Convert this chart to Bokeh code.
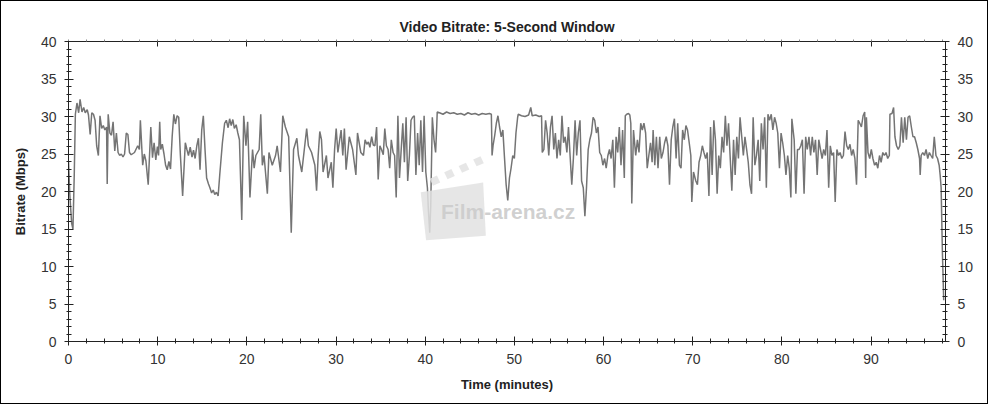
from bokeh.plotting import figure
from bokeh.models import LinearAxis, Range1d, Label, FixedTicker
from bokeh.embed import file_html
from bokeh.resources import INLINE

# ---- data (time in minutes, bitrate in Mbps) ----
t_part1 = [0.00, 0.15, 0.35, 0.50, 0.65, 0.77, 0.95, 1.14, 1.30, 1.51, 1.70, 1.88, 2.10, 2.24, 2.43, 2.61, 2.80, 2.98,
           3.16, 3.35, 3.53, 3.72, 3.90, 4.08, 4.27, 4.34, 4.45, 4.64, 4.82, 5.00, 5.19, 5.37, 5.56, 5.74, 5.92, 6.11,
           6.29, 6.48, 6.66, 6.84, 7.03, 7.40, 7.76, 7.95, 8.06, 8.32, 8.50, 8.68, 8.94, 9.23, 9.42, 9.60, 9.79, 9.97,
           10.10, 10.23, 10.34, 10.52, 10.71, 10.89, 11.07, 11.26, 11.44, 11.63, 11.81, 11.99, 12.18, 12.36, 12.55,
           12.80, 13.10, 13.28, 13.45, 13.65, 13.85, 14.02, 14.20, 14.39, 14.57, 14.75, 14.94, 15.12, 15.31, 15.49,
           15.70, 15.86, 16.05, 16.23, 16.40, 16.59, 16.78, 16.96, 17.26, 17.51, 17.70, 17.90, 18.07, 18.25, 18.43,
           18.60, 18.80, 18.99, 19.17, 19.43, 19.65, 19.90, 20.09, 20.35, 20.64, 20.82, 21.01, 21.38, 21.56, 21.74,
           21.93, 22.30, 22.48, 22.85, 23.22, 23.40, 23.77, 24.03, 24.32, 24.69, 24.98, 25.24, 25.61, 25.79, 26.16,
           26.71, 26.90, 27.26, 27.63, 27.82, 28.00, 28.18, 28.37, 28.55, 28.92, 29.10, 29.47, 29.65, 29.84, 30.02,
           30.21, 30.57, 30.76, 30.94, 31.13, 31.49, 31.86, 32.23, 32.41, 32.78]
v_part1 = [24.0, 19.5, 15.8, 15.0, 22.5, 30.3, 31.8, 30.5, 32.3, 30.6, 31.2, 30.5, 30.9, 30.2, 27.6, 30.5, 30.3, 29.5,
           26.1, 24.8, 30.1, 28.4, 28.8, 28.2, 28.6, 21.0, 30.3, 27.8, 27.5, 29.3, 25.4, 27.8, 25.2, 24.8, 25.0, 24.6,
           25.0, 27.8, 27.6, 25.2, 24.9, 25.2, 26.1, 25.6, 29.5, 23.5, 25.0, 24.1, 20.9, 28.6, 24.5, 26.5, 24.2, 26.0,
           24.8, 29.3, 25.6, 26.3, 25.0, 23.5, 22.9, 24.0, 23.0, 27.4, 30.3, 29.0, 30.1, 29.9, 24.8,
           19.4, 26.5, 25.6, 24.8, 25.9, 24.6, 25.5, 24.4, 26.1, 27.1, 22.9, 28.2, 30.1, 25.6, 21.8,
           21.0, 20.5, 19.8, 20.2, 19.6, 19.9, 19.4, 22.2, 26.5, 29.1, 29.5, 28.5, 29.7, 28.8, 29.6,
           28.4, 28.9, 27.8, 26.9, 16.2, 30.1, 26.1, 29.3, 19.2, 25.6, 23.1, 24.8, 25.6, 30.3, 23.5,
           24.8, 19.7, 25.2, 23.5, 24.8, 26.1, 22.6, 30.1, 28.6, 27.3, 14.5, 25.6, 27.1, 24.8, 22.6,
           28.4, 26.1, 25.2, 23.5, 20.1, 24.8, 28.0, 26.9, 22.6, 24.8, 21.8, 23.9, 20.5, 25.6, 28.4,
           25.2, 28.2, 24.8, 28.4, 22.9, 27.3, 25.6, 22.2, 27.8, 25.2]

t_part2 = [33.08, 33.26, 33.45, 33.63, 33.80, 34.00, 34.18, 34.36, 34.55, 34.73, 34.92, 35.10, 35.30, 35.47, 35.65,
           35.84, 36.02, 36.20, 36.40, 36.57, 36.75, 36.94, 37.12, 37.31, 37.49, 37.67, 37.86, 38.04, 38.23, 38.41,
           38.59, 38.78, 38.96, 39.15, 39.33, 39.51, 39.70, 39.88, 40.07, 40.25, 40.36, 40.51, 40.62, 40.80, 40.99,
           41.17, 41.28, 41.35, 41.6, 42.0, 42.4, 42.8, 43.2, 43.6, 44.0, 44.4, 44.8, 45.2, 45.6, 46.0, 46.4, 46.8,
           47.2, 47.42, 47.50, 47.61, 47.80, 47.98, 48.16, 48.34, 48.53, 48.71, 48.90, 49.08, 49.26, 49.45, 49.63,
           49.82, 50.00, 50.18, 50.37, 50.44, 50.8, 51.2, 51.6, 51.84, 52.0, 52.4, 52.8, 53.05, 53.13, 53.31, 53.50,
           53.68, 53.86, 54.05, 54.23, 54.42, 54.60, 54.78, 54.97, 55.15, 55.34, 55.52, 55.70, 55.89, 56.07, 56.25,
           56.44, 56.62, 56.81, 56.99, 57.17, 57.36, 57.54, 57.73, 57.91, 58.09, 58.28, 58.46, 58.65, 58.83, 59.01,
           59.20, 59.38, 59.57, 59.75, 59.93, 60.12, 60.30, 60.49, 60.67, 60.85, 61.04, 61.22, 61.41, 61.59, 61.77,
           61.96, 62.14, 62.33, 62.44, 62.60, 62.80, 62.95, 63.06, 63.17, 63.36, 63.61, 63.80, 63.98, 64.17, 64.35,
           64.53, 64.72, 64.90, 65.08, 65.27, 65.45]
v_part2 = [24.8, 26.9, 26.3, 26.6, 25.9, 27.3, 26.2, 26.1, 28.6, 21.6, 26.1, 25.6, 24.9, 28.4, 26.1,
           25.6, 23.1, 26.9, 25.2, 24.8, 19.2, 30.1, 21.8, 25.6, 29.1, 23.9, 29.9, 21.4, 24.8, 29.5,
           29.9, 30.1, 22.2, 27.8, 23.5, 29.5, 22.6, 30.1, 22.6, 20.5, 17.5, 14.5, 17.9, 29.9, 26.9,
           25.2, 28.2, 30.6, 30.5, 30.3, 30.6, 30.4, 30.5, 30.3, 30.4, 30.2, 30.5, 30.3, 30.4, 30.2, 30.4, 30.3,
           30.4, 30.3, 24.8, 26.1, 27.5, 29.1, 30.1, 28.6, 27.3, 28.2, 24.4, 20.9, 18.8, 21.8, 23.1,
           24.8, 24.4, 27.8, 29.9, 30.3, 30.1, 30.0, 30.2, 31.2, 30.1, 30.2, 30.0, 30.1, 25.2, 25.6, 29.5,
           27.8, 24.8, 28.6, 30.1, 25.6, 27.8, 24.4, 26.9, 24.8, 30.1, 26.5, 27.3, 25.2, 28.6, 24.8,
           20.9, 24.4, 29.5, 24.8, 27.8, 29.5, 21.4, 20.5, 16.7, 20.5, 25.6, 26.9, 27.8, 29.9, 29.5,
           27.8, 28.6, 25.2, 24.8, 23.5, 24.4, 23.1, 24.8, 25.6, 24.4, 26.9, 20.5, 27.3, 25.2, 28.6,
           23.5, 28.2, 21.8, 30.1, 30.3, 30.4, 30.2, 29.1, 18.4, 28.2, 24.8, 26.9, 25.2, 29.1, 28.2,
           29.1, 27.8, 23.1, 24.8, 26.5, 23.9]

t_part3 = [65.56, 65.75, 65.93, 66.11, 66.30, 66.48, 66.67, 66.85, 67.03, 67.22, 67.40, 67.59, 67.77, 67.95, 68.14,
           68.32, 68.51, 68.69, 68.87, 69.06, 69.24, 69.42, 69.61, 69.79, 69.90, 70.09, 70.35, 70.53, 70.71, 70.90,
           71.08, 71.26, 71.45, 71.63, 71.82, 72.00, 72.18, 72.37, 72.55, 72.74, 72.92, 73.10, 73.29, 73.47, 73.66,
           73.84, 74.02, 74.21, 74.39, 74.58, 74.76, 74.94, 75.13, 75.31, 75.50, 75.68, 75.86, 76.05, 76.23, 76.42,
           76.60, 76.78, 76.97, 77.15, 77.34, 77.52, 77.70, 77.89, 78.07, 78.26, 78.44, 78.62, 78.81, 78.99, 79.18,
           79.36, 79.54, 79.73, 79.91, 80.09, 80.28, 80.46, 80.65, 80.83, 81.01, 81.12, 81.38, 81.57, 81.75, 81.93,
           82.12, 82.30, 82.49, 82.67, 82.85, 83.04, 83.22, 83.41, 83.59, 83.77, 83.96, 84.14, 84.33, 84.51, 84.69,
           84.88, 85.06, 85.25, 85.43, 85.61, 85.80, 85.98, 86.17, 86.35, 86.53, 86.72, 86.90, 87.08, 87.27, 87.45,
           87.64, 87.82, 88.00, 88.19, 88.37, 88.56, 88.74, 88.92, 89.11, 89.29, 89.40, 89.48, 89.66, 89.85, 90.03,
           90.21, 90.40, 90.58, 90.76, 90.95, 91.13, 91.32, 91.50, 91.68, 91.87, 92.05, 92.12, 92.35, 92.53, 92.68,
           92.86, 93.05, 93.23, 93.41, 93.60, 93.78, 93.97, 94.15, 94.33, 94.52, 94.70, 94.88, 95.07, 95.25, 95.44,
           95.51, 95.62, 95.80, 95.99, 96.17, 96.36, 96.54, 96.72, 96.91, 97.09, 97.28, 97.46, 97.64, 97.75, 97.86,
           98.00, 98.15]
v_part3 = [28.2, 23.5, 27.3, 23.1, 27.3, 24.4, 25.2, 26.5, 27.3, 26.1, 20.9, 26.9, 28.6, 29.7, 24.4,
           29.1, 23.5, 23.1, 28.2, 26.9, 28.8, 28.2, 26.5, 24.8, 18.6, 22.6, 21.4, 20.9, 23.9, 24.8,
           26.1, 25.2, 24.4, 25.2, 19.4, 28.6, 22.2, 29.5, 26.9, 19.7, 24.8, 23.1, 27.3, 25.2, 30.1,
           26.1, 29.1, 24.4, 20.1, 26.9, 22.2, 27.3, 24.4, 29.9, 27.3, 24.8, 27.3, 25.6, 23.9, 20.9,
           19.7, 29.9, 23.5, 24.8, 26.9, 21.4, 29.1, 25.6, 29.9, 20.5, 30.3, 29.5, 30.3, 28.2, 29.9,
           29.1, 27.8, 23.1, 27.8, 26.5, 24.8, 22.2, 24.8, 23.1, 19.2, 29.7, 26.9, 19.7, 25.6, 25.6,
           26.1, 26.9, 19.7, 27.3, 25.6, 27.3, 24.8, 27.3, 25.2, 26.9, 22.2, 26.9, 25.6, 24.4, 25.6,
           24.8, 28.2, 20.5, 26.1, 24.8, 25.2, 18.6, 25.6, 24.8, 25.2, 24.4, 24.8, 28.0, 26.1, 25.6,
           26.3, 24.8, 25.6, 24.4, 20.9, 29.5, 29.1, 28.6, 30.1, 30.6, 21.8, 29.9, 25.2, 24.4, 25.6,
           24.4, 23.5, 23.9, 23.1, 24.8, 23.9, 25.2, 24.8, 25.2, 24.4, 24.8, 30.3, 30.4, 31.2, 27.3,
           26.1, 25.6, 26.1, 29.9, 26.5, 29.9, 26.9, 29.9, 30.1, 28.6, 27.3, 27.3, 26.5, 25.6, 24.4,
           22.2, 24.8, 25.2, 24.8, 25.6, 24.4, 25.2, 24.8, 24.4, 27.3, 24.8, 24.4, 23.5, 22.2, 20.5,
           12.0, 5.5]

minutes = t_part1 + t_part2 + t_part3
bitrate_mbps = v_part1 + v_part2 + v_part3

x_ticks = [0, 10, 20, 30, 40, 50, 60, 70, 80, 90]
y_ticks = [0, 5, 10, 15, 20, 25, 30, 35, 40]
x_minor = list(range(0, 99, 2))
y_minor = list(range(0, 41, 1))

title_text = "Video Bitrate: 5-Second Window"
x_label = "Time (minutes)"
y_label = "Bitrate (Mbps)"
watermark = "Film-arena.cz"

FONT = "Liberation Sans"
AXIS_COLOR = "#222222"

p = figure(frame_width=877, frame_height=300,
           x_range=Range1d(0, 98.35), y_range=Range1d(0, 40),
           output_backend="svg", toolbar_location=None,
           min_border_left=67, min_border_right=42, min_border_top=40, min_border_bottom=62,
           background_fill_color="white", border_fill_color="white")
p.styles = {"border": "1px solid #000000"}
p.outline_line_color = None
p.grid.visible = False

p.title.text = title_text
p.title.align = "center"
p.title.text_font = FONT
p.title.text_font_size = "14px"
p.title.text_font_style = "bold"
p.title.text_color = "#222222"
p.title.offset = 0

bottom_axis = p.below[0]
left_axis = p.left[0]
right_axis = LinearAxis()
top_axis = LinearAxis()
p.add_layout(right_axis, "right")
p.add_layout(top_axis, "above")


def style_axis(ax, ticks, minor):
    ax.ticker = FixedTicker(ticks=ticks, minor_ticks=minor)
    ax.axis_line_color = AXIS_COLOR
    ax.major_tick_line_color = AXIS_COLOR
    ax.minor_tick_line_color = AXIS_COLOR
    ax.major_tick_in = 5
    ax.major_tick_out = 4
    ax.minor_tick_in = 3
    ax.minor_tick_out = 2
    ax.major_label_text_font = FONT
    ax.major_label_text_font_size = "14px"
    ax.major_label_text_color = "#333333"
    ax.axis_label_text_font = FONT
    ax.axis_label_text_font_size = "13px"
    ax.axis_label_text_font_style = "bold"
    ax.axis_label_text_color = "#222222"


style_axis(bottom_axis, x_ticks, x_minor)
style_axis(left_axis, y_ticks, y_minor)
style_axis(right_axis, y_ticks, y_minor)
style_axis(top_axis, x_ticks, x_minor)
# top axis: ticks only; its (invisible) labels just reserve a little space under the title
top_axis.major_label_text_font_size = "6px"
top_axis.major_label_text_alpha = 0
top_axis.major_label_text_color = "white"
top_axis.major_label_standoff = 0
top_axis.major_tick_out = 0
top_axis.minor_tick_in = 0
top_axis.minor_tick_out = 2
top_axis.minor_tick_line_color = "#888888"

bottom_axis.axis_label = x_label
bottom_axis.major_label_standoff = 8
bottom_axis.axis_label_standoff = 10
left_axis.axis_label = y_label
left_axis.major_label_standoff = 8
left_axis.axis_label_standoff = 10
right_axis.major_label_standoff = 8

# data line
p.line(minutes, bitrate_mbps, line_color="#747474", line_width=1.5)

# watermark (decorative, drawn over the data in a faint grey)
wm_color = "#e2e2e2"
body_x = [39.5, 46.5, 46.8, 40.1]
body_y = [19.9, 21.2, 14.1, 13.5]
p.patch(body_x, body_y, fill_color=wm_color, line_color=None, fill_alpha=0.85)
ax0, ay0, ax1, ay1 = 40.5, 21.7, 46.2, 24.7
dx, dy = 0.375, -0.92
n = 7
xs, ys = [], []
for i in range(0, n, 2):
    f0, f1 = i / n, (i + 1) / n
    x0, y0 = ax0 + (ax1 - ax0) * f0, ay0 + (ay1 - ay0) * f0
    x1, y1 = ax0 + (ax1 - ax0) * f1, ay0 + (ay1 - ay0) * f1
    xs.append([x0, x1, x1 + dx, x0 + dx])
    ys.append([y0, y1, y1 + dy, y0 + dy])
p.patches(xs, ys, fill_color=wm_color, line_color=None, fill_alpha=0.85)
p.add_layout(Label(x=49.3, y=17.4, text=watermark, text_align="center", text_baseline="middle",
                   text_font=FONT, text_font_size="21px", text_font_style="bold",
                   text_color="#cdcdcd", text_alpha=0.95))

open("out.html", "w").write(file_html(p, INLINE))
